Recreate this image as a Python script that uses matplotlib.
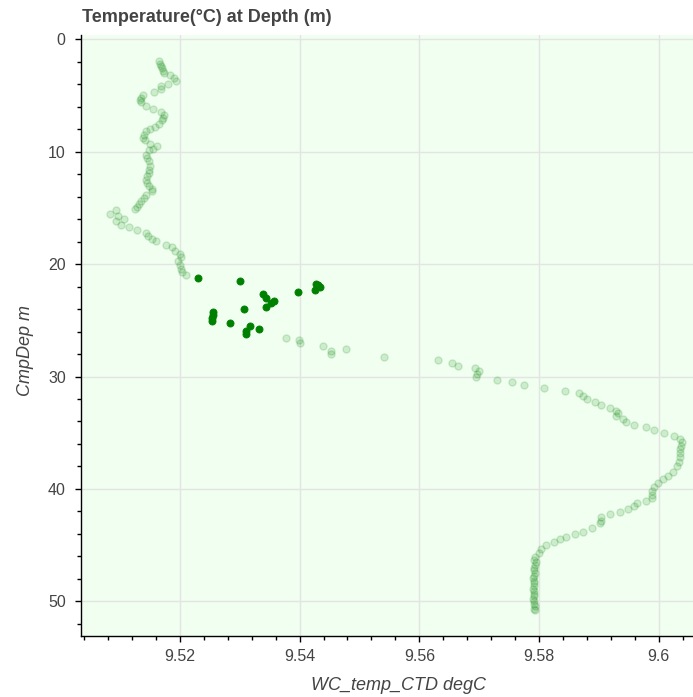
import matplotlib
matplotlib.use("Agg")
import matplotlib.pyplot as plt
from matplotlib.ticker import FixedLocator, MultipleLocator

# ---- data ----
temp_all = [
    9.5165, 9.5167, 9.5168, 9.5170, 9.5172, 9.5173, 9.5183, 9.5190, 9.5193, 9.5181,
    9.5169, 9.5168, 9.5157, 9.5139, 9.5136, 9.5134, 9.5135, 9.5143, 9.5155, 9.5168,
    9.5173, 9.5172, 9.5170, 9.5165, 9.5159, 9.5151, 9.5143, 9.5140, 9.5139, 9.5142,
    9.5150, 9.5162, 9.5155, 9.5148, 9.5143, 9.5146, 9.5148, 9.5150, 9.5149, 9.5148,
    9.5145, 9.5143, 9.5146, 9.5148, 9.5153, 9.5154, 9.5144, 9.5140, 9.5136, 9.5132,
    9.5128, 9.5125, 9.5093, 9.5083, 9.5096, 9.5106, 9.5094, 9.5101, 9.5115, 9.5128,
    9.5143, 9.5147, 9.5153, 9.5160, 9.5177, 9.5187, 9.5192, 9.5200, 9.5202, 9.5197,
    9.5200, 9.5202, 9.5203, 9.5211,
    9.5378, 9.5399, 9.5400, 9.5439, 9.5478, 9.5453, 9.5452, 9.5541, 9.5631, 9.5654,
    9.5665, 9.5693, 9.5700, 9.5697, 9.5694, 9.5729, 9.5754, 9.5774, 9.5808, 9.5844,
    9.5866, 9.5873, 9.5880, 9.5893, 9.5903, 9.5918, 9.5929, 9.5931, 9.5929, 9.5940,
    9.5945, 9.5959, 9.5979, 9.5992, 9.6008, 9.6026, 9.6036, 9.6038, 9.6037, 9.6035,
    9.6035, 9.6035, 9.6034, 9.6031, 9.6024, 9.6015, 9.6007, 9.5999, 9.5992, 9.5989,
    9.5988, 9.5989, 9.5979, 9.5964, 9.5958, 9.5949, 9.5935, 9.5918, 9.5903, 9.5903,
    9.5901, 9.5888, 9.5873, 9.5860, 9.5845, 9.5835, 9.5825, 9.5811, 9.5804, 9.5800,
    9.5793, 9.5792, 9.5794, 9.5793, 9.5791, 9.5792, 9.5793, 9.5791, 9.5790, 9.5791,
    9.5792, 9.5791, 9.5790, 9.5791, 9.5792, 9.5791, 9.5790, 9.5791, 9.5792, 9.5793,
    9.5792, 9.5793,
]
depth_all = [
    1.93, 2.14, 2.38, 2.58, 2.83, 2.97, 3.18, 3.41, 3.72, 3.92,
    4.16, 4.39, 4.70, 4.90, 5.20, 5.41, 5.59, 5.94, 6.18, 6.44,
    6.68, 6.98, 7.19, 7.49, 7.78, 7.96, 8.17, 8.47, 8.76, 8.97,
    9.27, 9.45, 9.74, 9.87, 10.25, 10.54, 10.85, 11.23, 11.59, 11.88,
    12.18, 12.48, 12.77, 13.07, 13.28, 13.52, 13.81, 14.11, 14.41, 14.64,
    14.88, 15.06, 15.21, 15.51, 15.75, 15.95, 16.19, 16.55, 16.67, 17.00,
    17.23, 17.53, 17.74, 17.98, 18.27, 18.51, 18.81, 19.10, 19.40, 19.76,
    20.05, 20.41, 20.70, 20.94,
    26.53, 26.74, 27.03, 27.27, 27.51, 27.72, 28.01, 28.23, 28.52, 28.76,
    29.03, 29.26, 29.50, 29.77, 30.06, 30.28, 30.51, 30.78, 31.02, 31.28,
    31.49, 31.73, 32.02, 32.24, 32.53, 32.77, 33.04, 33.25, 33.51, 33.81,
    34.05, 34.29, 34.52, 34.76, 35.03, 35.29, 35.53, 35.86, 36.19, 36.48,
    36.84, 37.19, 37.58, 37.97, 38.48, 38.83, 39.13, 39.51, 39.81, 40.20,
    40.55, 40.85, 41.06, 41.29, 41.53, 41.80, 42.04, 42.25, 42.49, 42.84,
    43.07, 43.52, 43.82, 44.03, 44.27, 44.47, 44.71, 45.01, 45.39, 45.69,
    46.05, 46.30, 46.55, 46.78, 47.02, 47.25, 47.47, 47.72, 47.95, 48.18,
    48.40, 48.66, 48.88, 49.10, 49.33, 49.57, 49.80, 50.02, 50.25, 50.47,
    50.66, 50.82,
]

temp_sel = [
    9.5231, 9.5300, 9.5339, 9.5344, 9.5357, 9.5353, 9.5344, 9.5398, 9.5427, 9.5434,
    9.5425, 9.5430, 9.5255, 9.5256, 9.5253, 9.5254, 9.5307, 9.5283, 9.5317, 9.5332,
    9.5310, 9.5310,
]
depth_sel = [
    21.24, 21.48, 22.67, 22.97, 23.24, 23.47, 23.77, 22.49, 21.75, 21.99,
    22.28, 21.84, 24.22, 24.51, 24.80, 25.02, 24.00, 25.25, 25.49, 25.76,
    25.94, 26.23,
]

x_ticks = [9.52, 9.54, 9.56, 9.58, 9.60]
x_tick_labels = ["9.52", "9.54", "9.56", "9.58", "9.6"]
y_ticks = [0, 10, 20, 30, 40, 50]
y_tick_labels = ["0", "10", "20", "30", "40", "50"]

title = "Temperature(\u00b0C) at Depth (m)"
x_label = "WC_temp_CTD degC"
y_label = "CmpDep m"

# ---- figure ----
plt.rcParams["font.family"] = ["Liberation Sans", "DejaVu Sans"]
W, H = 693, 697
fig = plt.figure(figsize=(W / 100, H / 100), dpi=100)
fig.patch.set_facecolor("white")
ax = fig.add_axes([81 / W, (H - 636) / H, (W - 81) / W, (636 - 35) / H])
ax.set_facecolor("#F0FFF0")

ax.scatter(temp_all, depth_all, s=26, color="green", alpha=0.15,
           linewidths=1.0, zorder=3)
ax.scatter(temp_sel, depth_sel, s=26, color="green", alpha=1.0,
           linewidths=0.6, zorder=4)

ax.set_xlim(9.5035, 9.6057)
ax.set_ylim(53.1, -0.4)

ax.xaxis.set_major_locator(FixedLocator(x_ticks))
ax.set_xticklabels(x_tick_labels)
ax.xaxis.set_minor_locator(MultipleLocator(0.004))
ax.yaxis.set_major_locator(FixedLocator(y_ticks))
ax.set_yticklabels(y_tick_labels)
ax.yaxis.set_minor_locator(MultipleLocator(2))

ax.grid(True, which="major", color="#E4E4E4", linewidth=1.0, zorder=0)
ax.set_axisbelow(True)

for s in ["top", "right"]:
    ax.spines[s].set_visible(False)
for s in ["left", "bottom"]:
    ax.spines[s].set_color("black")
    ax.spines[s].set_linewidth(1.0)

ax.tick_params(which="major", direction="out", length=4.5, width=1,
               color="black", labelsize=11.5, labelcolor="#444444")
ax.tick_params(axis="y", which="major", pad=6.5)
ax.tick_params(axis="x", which="major", pad=5)
ax.tick_params(which="minor", direction="out", length=3, width=1,
               color="black")

ax.set_xlabel(x_label, fontsize=13, style="italic", color="#444444")
ax.set_ylabel(y_label, fontsize=13, style="italic", color="#444444")
ax.xaxis.set_label_coords((398 - 81) / (W - 81), -(686 - 636) / (636 - 35))
ax.yaxis.set_label_coords(-(81 - 25) / (W - 81), 1 - (350 - 35) / (636 - 35))
ax.xaxis.label.set_va("center")
ax.yaxis.label.set_va("center")

fig.text(82 / W, 1 - 18 / H, title, fontsize=13, fontweight="bold",
         color="#444444", ha="left", va="center")

fig.savefig("out.png", dpi=100, facecolor="white")
